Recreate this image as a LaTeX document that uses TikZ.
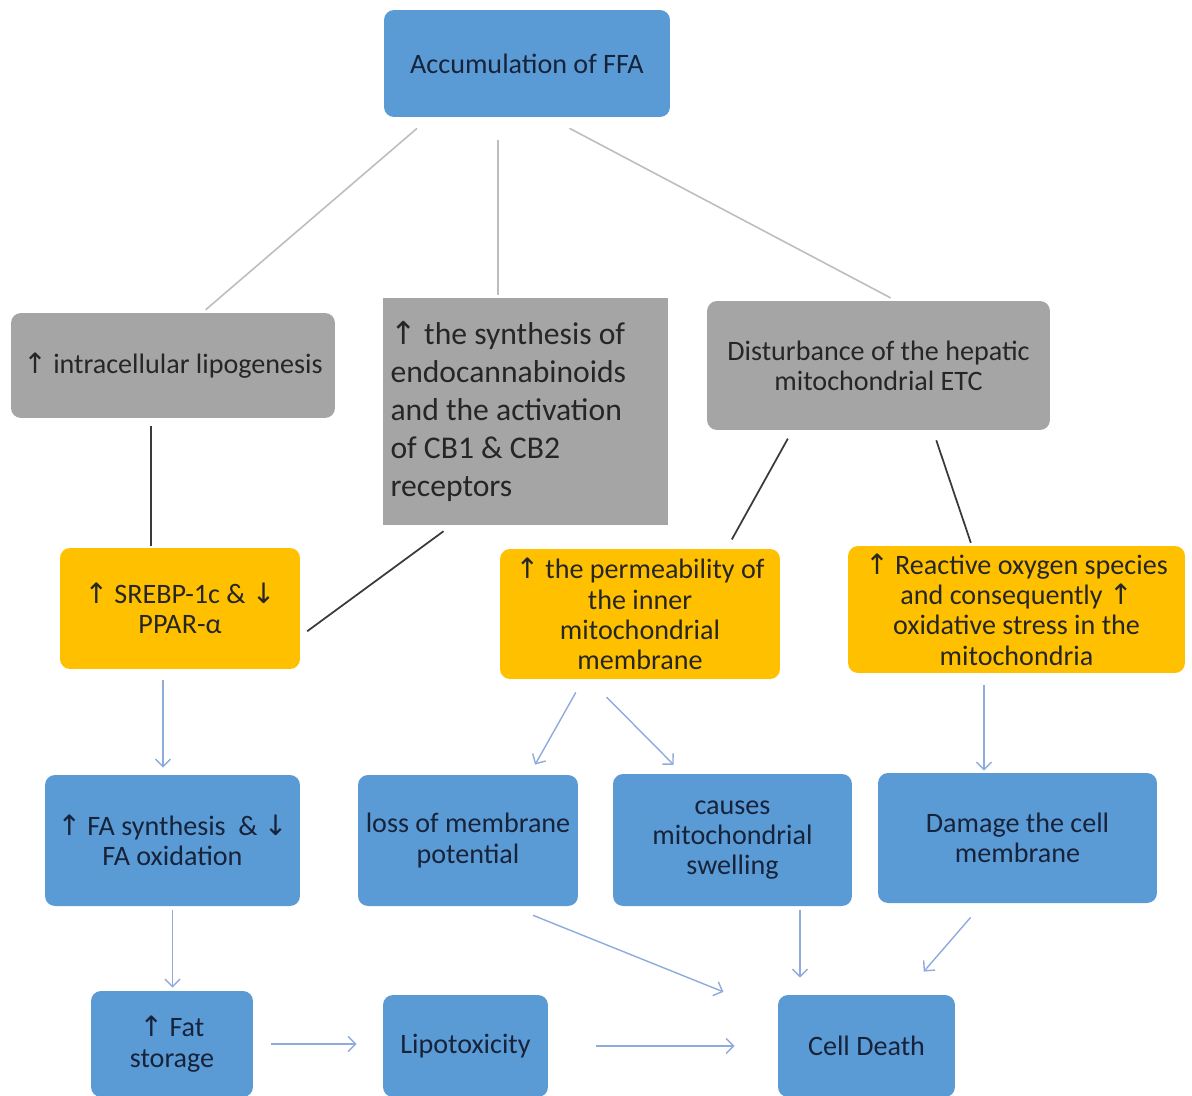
\documentclass[tikz,border=0pt]{standalone}
\usepackage{fontspec}
\setmainfont{Carlito}
\newfontfamily\arrfont{DejaVu Sans}
\usetikzlibrary{arrows.meta}

\definecolor{boxblue}{HTML}{5B9BD5}
\definecolor{boxgray}{HTML}{A5A5A5}
\definecolor{boxgold}{HTML}{FFC000}
\definecolor{txtnavy}{HTML}{16233A}
\definecolor{txtdark}{HTML}{262626}
\definecolor{linegray}{HTML}{BDBDBD}
\definecolor{linedark}{HTML}{3A3A3A}
\definecolor{arrowblue}{HTML}{8FAADC}

\newcommand{\upar}{{\arrfont ↑}}
\newcommand{\dnar}{{\arrfont ↓}}

\tikzset{
	box/.style={rectangle, rounded corners=0.2cm, inner sep=2pt, align=center, font=\fontsize{16}{17.2}\selectfont, text=txtdark},
	bluebox/.style={box, fill=boxblue, text=txtnavy},
	graybox/.style={box, fill=boxgray},
	goldbox/.style={box, fill=boxgold},
	feedline/.style={draw=linegray, line width=0.9pt},
	darkline/.style={draw=linedark, line width=1pt},
	flow/.style={draw=arrowblue, line width=0.8pt, -{Straight Barb[length=1.5mm,width=3mm]}},
}

\begin{document}
\begin{tikzpicture}[x=0.02cm, y=-0.02cm]
		%%%%% START %%%%%
		
		\useasboundingbox (0, 0) rectangle (1192, 1095);
		
		\node[bluebox, minimum width=5.72cm, minimum height=2.14cm] (ffa) at (527, 63.5) {Accumulation of FFA};
		
		\node[graybox, minimum width=6.48cm, minimum height=2.10cm] (lipo) at (173, 365.5) {\upar{} intracellular lipogenesis};
		\node[graybox, rounded corners=0pt, minimum width=5.70cm, minimum height=4.54cm, text width=5.4cm, align=flush left, font=\fontsize{18}{21.5}\selectfont] (endo) at (525.5, 411.5) {\upar{} the synthesis of\\endocannabinoids\\and the activation\\of CB1 \& CB2\\receptors};
		\node[graybox, minimum width=6.86cm, minimum height=2.58cm] (dist) at (878.5, 365.5) {Disturbance of the hepatic\\mitochondrial ETC};
		
		\node[goldbox, minimum width=4.80cm, minimum height=2.42cm] (srebp) at (180, 608.5) {\upar{} SREBP-1c \& \dnar{}\\PPAR-α};
		\node[goldbox, minimum width=5.60cm, minimum height=2.60cm] (perm) at (640, 614) {\upar{} the permeability of\\the inner\\mitochondrial\\membrane};
		\node[goldbox, minimum width=6.74cm, minimum height=2.54cm] (ros) at (1016.5, 609.5) {\upar{} Reactive oxygen species\\and consequently \upar{}\\oxidative stress in the\\mitochondria};
		
		\node[bluebox, minimum width=5.10cm, minimum height=2.62cm] (fasyn) at (172.5, 840.5) {\upar{} FA synthesis ~\& \dnar{}\\FA oxidation};
		\node[bluebox, minimum width=4.40cm, minimum height=2.62cm] (loss) at (468, 840.5) {loss of membrane\\potential};
		\node[bluebox, minimum width=4.78cm, minimum height=2.64cm] (swell) at (732.5, 840) {causes\\mitochondrial\\swelling};
		\node[bluebox, minimum width=5.58cm, minimum height=2.60cm] (damage) at (1017.5, 838) {Damage the cell\\membrane};
		
		\node[bluebox, minimum width=3.24cm, minimum height=2.12cm] (fat) at (172, 1044) {\upar{} Fat\\storage};
		\node[bluebox, minimum width=3.30cm, minimum height=2.04cm] (lipotox) at (465.5, 1046) {Lipotoxicity};
		\node[bluebox, minimum width=3.54cm, minimum height=2.04cm] (death) at (866.5, 1046) {Cell Death};
		
		% lines out of the top box
		\draw[feedline, shorten <=0.34cm, shorten >=0.09cm] (ffa.209) -- (lipo.61.5);
		\draw[feedline, shorten <=0.46cm, shorten >=0.06cm] ([xshift=-0.58cm]ffa.south) -- ([xshift=-0.58cm]ffa.south |- endo.north);
		\draw[feedline, shorten <=0.47cm, shorten >=0.12cm] (ffa.292) -- (dist.75);
		
		% lines into the yellow boxes
		\draw[darkline, shorten <=0.16cm, shorten >=0.04cm] ([xshift=-0.44cm]lipo.south) -- ([xshift=-0.44cm]lipo.south |- srebp.north);
		\draw[darkline, shorten <=0.20cm, shorten >=0.17cm] (endo.237) -- (srebp.347.5);
		\draw[darkline, shorten <=0.19cm, shorten >=0.21cm] (dist.217.6) -- (perm.37.5);
		\draw[darkline, shorten <=0.21cm, shorten >=0.06cm] (dist.310.6) -- (ros.125.6);
		
		% arrows
		\draw[flow, shorten <=0.22cm, shorten >=0.14cm] ([xshift=-0.34cm]srebp.south) -- ([xshift=-0.34cm]srebp.south |- fasyn.north);
		\draw[flow, shorten <=0.30cm, shorten >=0.23cm] (perm.229) -- (loss.47.4);
		\draw[flow, shorten <=0.50cm, shorten >=0.25cm] (perm.232.9) -- (swell.127.6);
		\draw[flow, shorten <=0.24cm, shorten >=0.04cm] ([xshift=-0.65cm]ros.south) -- ([xshift=-0.65cm]ros.south |- damage.north);
		
		\draw[flow, shorten <=0.08cm, shorten >=0.06cm] (fasyn.south) -- (fasyn.south |- fat.north);
		\draw[flow, shorten <=0.48cm, shorten >=1.17cm] (loss.303.8) -- (death.160);
		\draw[flow, shorten <=0.08cm, shorten >=0.34cm] ([xshift=1.35cm]swell.south) -- ([xshift=1.35cm]swell.south |- death.north);
		\draw[flow, shorten <=0.37cm, shorten >=0.61cm] (damage.242.2) -- (death.54.5);
		
		\draw[flow, shorten <=0.36cm, shorten >=0.52cm] (fat.east) -- (fat.east -| lipotox.west);
		\draw[flow, shorten <=0.96cm, shorten >=0.86cm] (lipotox.east) -- (death.west);
		
		%%%%% END %%%%%
	\end{tikzpicture}
\end{document}
